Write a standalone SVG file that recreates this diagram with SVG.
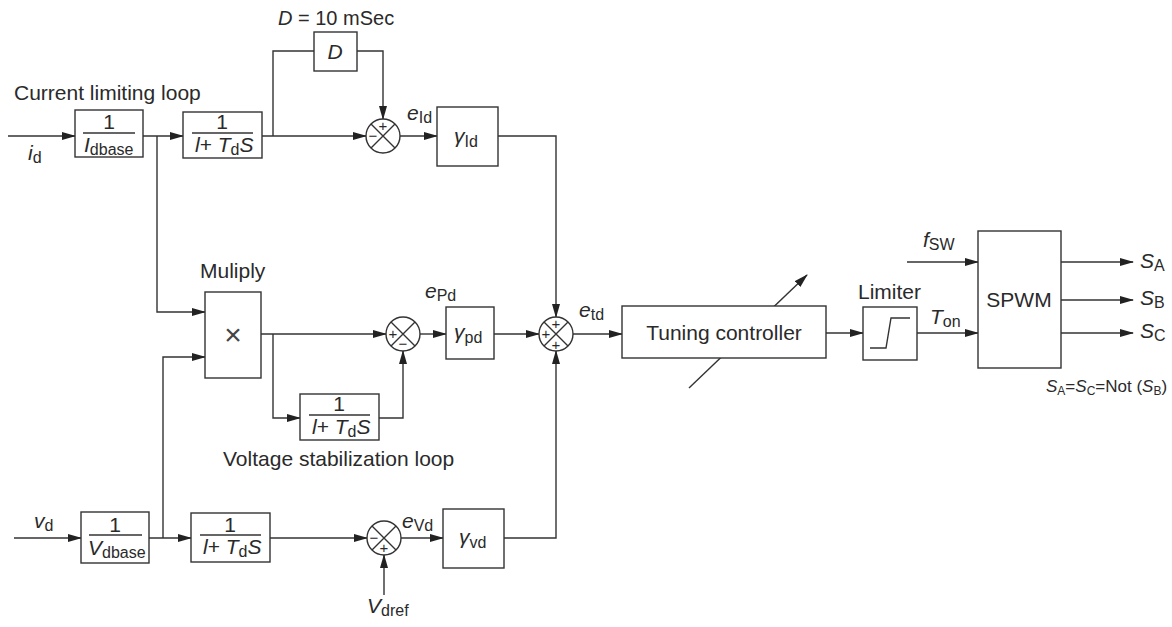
<svg xmlns="http://www.w3.org/2000/svg" width="1172" height="627" viewBox="0 0 1172 627">
<style>
.t{font-family:"Liberation Sans",Arial,sans-serif;font-size:21px;fill:#2a2a2a}
.i{font-style:italic}
.s{font-size:16px}
.sm{font-size:17px}
.ss{font-size:12px}
.sg{font-family:"Liberation Sans",Arial,sans-serif;font-size:15px;fill:#2a2a2a;text-anchor:middle}
.b{fill:#fff;stroke:#333;stroke-width:1.4}
.w{fill:none;stroke:#333;stroke-width:1.4}
.c{fill:none;stroke:#333;stroke-width:1.4}
.m{text-anchor:middle}
</style>
<defs>
<marker id="ah" markerWidth="14" markerHeight="8" refX="13" refY="4" orient="auto" markerUnits="userSpaceOnUse">
<path d="M0,0 L14,4 L0,8 Z" fill="#222"/>
</marker>
</defs>
<rect width="1172" height="627" fill="#fff"/>
<g id="connectors" class="w">
<path d="M8,136 H75" marker-end="url(#ah)"/>
<path d="M143,136 H183" marker-end="url(#ah)"/>
<path d="M157,136 V312 H205" marker-end="url(#ah)"/>
<path d="M262,136 H366" marker-end="url(#ah)"/>
<path d="M273,136 V51 H314"/>
<path d="M357,51 H383 V119" marker-end="url(#ah)"/>
<path d="M400,136 H437" marker-end="url(#ah)"/>
<path d="M498,136 H556 V317" marker-end="url(#ah)"/>
<path d="M14,538 H81" marker-end="url(#ah)"/>
<path d="M149,538 H191" marker-end="url(#ah)"/>
<path d="M163,538 V357 H205" marker-end="url(#ah)"/>
<path d="M270,538 H367" marker-end="url(#ah)"/>
<path d="M384,595 V555" marker-end="url(#ah)"/>
<path d="M401,538 H443" marker-end="url(#ah)"/>
<path d="M504,538 H556 V351" marker-end="url(#ah)"/>
<path d="M261,334 H386" marker-end="url(#ah)"/>
<path d="M273,334 V418 H300" marker-end="url(#ah)"/>
<path d="M379,418 H403 V351" marker-end="url(#ah)"/>
<path d="M420,334 H446" marker-end="url(#ah)"/>
<path d="M494,334 H539" marker-end="url(#ah)"/>
<path d="M573,334 H622" marker-end="url(#ah)"/>
<path d="M689,388 L807,275" marker-end="url(#ah)"/>
<path d="M826,333 H863" marker-end="url(#ah)"/>
<path d="M917,333 H978" marker-end="url(#ah)"/>
<path d="M907,262 H978" marker-end="url(#ah)"/>
<path d="M1061,262 H1133" marker-end="url(#ah)"/>
<path d="M1061,300 H1133" marker-end="url(#ah)"/>
<path d="M1061,333 H1133" marker-end="url(#ah)"/>
</g>
<g id="box_idbase">
<rect class="b" x="75" y="110" width="68" height="47"/>
<text class="t m" x="109" y="129">1</text>
<line class="w" x1="83" y1="133" x2="135" y2="133"/>
<text class="t" x="84" y="152"><tspan class="i">I</tspan><tspan class="s" dy="3">dbase</tspan></text>
</g>
<g id="box_lp1">
<rect class="b" x="183" y="112" width="79" height="46"/>
<text class="t m" x="222" y="129">1</text>
<line class="w" x1="192" y1="133" x2="253" y2="133"/>
<text class="t" x="195" y="152"><tspan class="i">l</tspan>+ <tspan class="i">T</tspan><tspan class="s" dy="3">d</tspan><tspan class="i" dy="-3">S</tspan></text>
</g>
<g id="box_D">
<rect class="b" x="314" y="32" width="43" height="39"/>
<text class="t i m" x="335" y="59">D</text>
</g>
<g id="sum_I">
<circle class="b" cx="383" cy="136" r="17"/>
<path class="c" d="M371,124 L395,148 M395,124 L371,148"/>
<text class="sg" x="383" y="131">+</text>
<text class="sg" x="373" y="141">−</text>
</g>
<g id="box_gId">
<rect class="b" x="437" y="107" width="61" height="59"/>
<text class="t" x="454" y="143"><tspan class="i">γ</tspan><tspan class="s" dy="4">Id</tspan></text>
</g>
<g id="box_mult">
<rect class="b" x="205" y="292" width="56" height="86"/>
<text class="t m" x="233" y="345" style="font-size:30px;fill:#444">×</text>
</g>
<g id="sum_P">
<circle class="b" cx="403" cy="334" r="17"/>
<path class="c" d="M391,322 L415,346 M415,322 L391,346"/>
<text class="sg" x="393" y="339">+</text>
<text class="sg" x="403" y="349">−</text>
</g>
<g id="box_lp2">
<rect class="b" x="300" y="394" width="79" height="46"/>
<text class="t m" x="339" y="411">1</text>
<line class="w" x1="309" y1="415" x2="370" y2="415"/>
<text class="t" x="312" y="434"><tspan class="i">l</tspan>+ <tspan class="i">T</tspan><tspan class="s" dy="3">d</tspan><tspan class="i" dy="-3">S</tspan></text>
</g>
<g id="box_gpd">
<rect class="b" x="446" y="307" width="48" height="52"/>
<text class="t" x="454" y="339"><tspan class="i">γ</tspan><tspan class="s" dy="4">pd</tspan></text>
</g>
<g id="sum_t">
<circle class="b" cx="556" cy="334" r="17"/>
<path class="c" d="M544,322 L568,346 M568,322 L544,346"/>
<text class="sg" x="556" y="329">+</text>
<text class="sg" x="546" y="339">+</text>
<text class="sg" x="556" y="350">+</text>
</g>
<g id="box_vdbase">
<rect class="b" x="81" y="512" width="68" height="51"/>
<text class="t m" x="115" y="532">1</text>
<line class="w" x1="89" y1="535" x2="142" y2="535"/>
<text class="t" x="88" y="555"><tspan class="i">V</tspan><tspan class="s" dy="3">dbase</tspan></text>
</g>
<g id="box_lp3">
<rect class="b" x="191" y="513" width="79" height="49"/>
<text class="t m" x="230" y="532">1</text>
<line class="w" x1="200" y1="535" x2="261" y2="535"/>
<text class="t" x="203" y="554"><tspan class="i">l</tspan>+ <tspan class="i">T</tspan><tspan class="s" dy="3">d</tspan><tspan class="i" dy="-3">S</tspan></text>
</g>
<g id="sum_V">
<circle class="b" cx="384" cy="538" r="17"/>
<path class="c" d="M372,526 L396,550 M396,526 L372,550"/>
<text class="sg" x="374" y="543">−</text>
<text class="sg" x="384" y="553">+</text>
</g>
<g id="box_gvd">
<rect class="b" x="443" y="509" width="61" height="59"/>
<text class="t" x="459" y="544"><tspan class="i">γ</tspan><tspan class="s" dy="4">vd</tspan></text>
</g>
<g id="tuning">
<rect class="b" x="622" y="306" width="204" height="52"/>
<text class="t m" x="724" y="340">Tuning controller</text>
</g>
<g id="limiter">
<rect class="b" x="863" y="307" width="54" height="53"/>
<path class="c" d="M870,348 H886 L891,318 H910"/>
</g>
<g id="spwm">
<rect class="b" x="978" y="231" width="83" height="137"/>
<text class="t m" x="1019" y="307">SPWM</text>
</g>
<g id="labels" class="t">
<text x="14" y="100">Current limiting loop</text>
<text x="28" y="160"><tspan class="i">i</tspan><tspan class="s" dy="3">d</tspan></text>
<text x="278" y="25" style="font-size:20px"><tspan class="i">D</tspan> = 10 mSec</text>
<text x="407" y="120"><tspan class="i">e</tspan><tspan class="s" dy="3">Id</tspan></text>
<text x="200" y="278">Muliply</text>
<text x="425" y="298"><tspan class="i">e</tspan><tspan class="s" dy="3">Pd</tspan></text>
<text x="223" y="466">Voltage stabilization loop</text>
<text x="34" y="528"><tspan class="i">v</tspan><tspan class="s" dy="3">d</tspan></text>
<text x="402" y="528"><tspan class="i">e</tspan><tspan class="s" dy="3">Vd</tspan></text>
<text x="367" y="613"><tspan class="i">V</tspan><tspan class="s" dy="3">dref</tspan></text>
<text x="579" y="317"><tspan class="i">e</tspan><tspan class="s" dy="3">td</tspan></text>
<text x="858" y="299">Limiter</text>
<text x="930" y="324"><tspan class="i">T</tspan><tspan class="s" dy="3">on</tspan></text>
<text x="923" y="247"><tspan class="i">f</tspan><tspan class="s" dy="3">SW</tspan></text>
<text x="1140" y="268"><tspan class="i">S</tspan><tspan class="s" dy="3">A</tspan></text>
<text x="1140" y="305"><tspan class="i">S</tspan><tspan class="s" dy="3">B</tspan></text>
<text x="1140" y="338"><tspan class="i">S</tspan><tspan class="s" dy="3">C</tspan></text>
<text class="sm" x="1046" y="392"><tspan class="i">S</tspan><tspan class="ss" dy="3">A</tspan><tspan dy="-3">=</tspan><tspan class="i">S</tspan><tspan class="ss" dy="3">C</tspan><tspan dy="-3">=Not (</tspan><tspan class="i">S</tspan><tspan class="ss" dy="3">B</tspan><tspan dy="-3">)</tspan></text>
</g>
</svg>
